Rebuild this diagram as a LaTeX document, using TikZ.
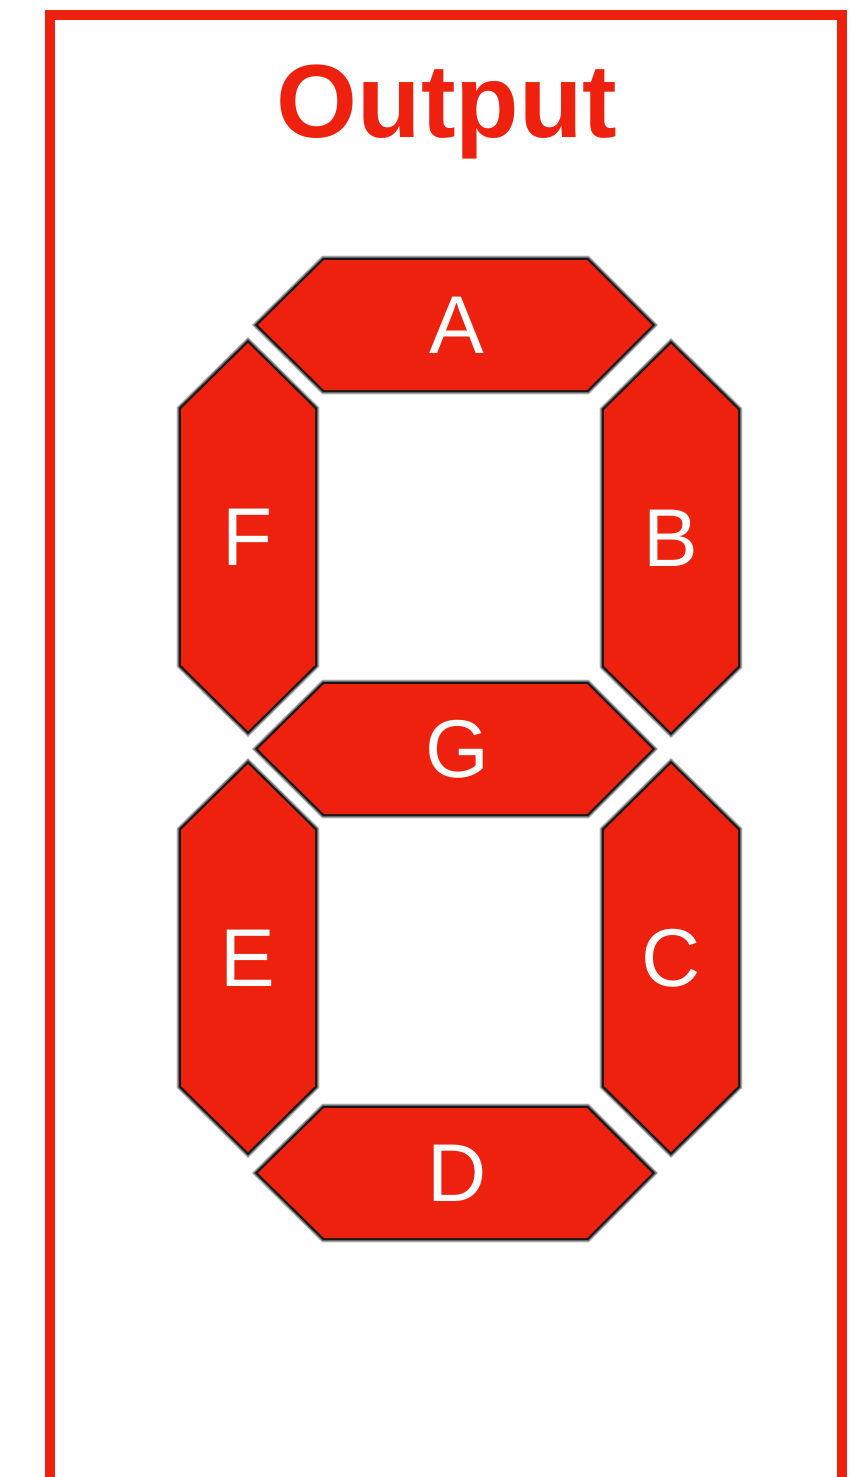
\documentclass[tikz,border=0pt]{standalone}
\usepackage{fontspec}
\setmainfont{Liberation Sans}
\usepackage{xcolor}
\usepackage{tikz}
\usetikzlibrary{positioning}

\definecolor{segred}{RGB}{237,33,14}

\begin{document}
\begin{tikzpicture}[
      x=0.5pt, y=-0.5pt,
      frame/.style={draw=segred, line width=5pt},
      title/.style={text=segred, font=\fontsize{52}{52}\selectfont\bfseries, anchor=base, inner sep=0pt},
      seg/.style={fill=segred, line join=miter,
          preaction={draw=black!25, line width=4.4pt},
          preaction={draw=black!55, line width=3.4pt},
          preaction={draw=black!90, line width=2.2pt}},
      segtext/.style={text=white, font=\fontsize{41}{41}\selectfont, inner sep=0pt},
    ]
    \useasboundingbox (0,0) rectangle (851,1477);

    % open frame
    \draw[frame] (50,1490) |- (842,15.5) -- (842,1490);
    \node[title] (title) at (447,137) {Output};

    % horizontal segments
    \foreach \name/\y in {A/325, G/749, D/1173} {
      \path[seg] (258,\y) -- (324,\y-65) -- (587,\y-65) -- (652,\y)
          -- (587,\y+65) -- (324,\y+65) -- cycle;
      \node[segtext] (\name) at (457,\y) {\name};
    }

    % vertical segments
    \foreach \name/\x/\y in {F/248/537, B/671/538, E/248/958, C/671/958} {
      \path[seg] (\x,\y-194) -- (\x+67,\y-128) -- (\x+67,\y+128) -- (\x,\y+194)
          -- (\x-67,\y+128) -- (\x-67,\y-128) -- cycle;
      \node[segtext] (\name) at (\x,\y) {\name};
    }

  \end{tikzpicture}
\end{document}
